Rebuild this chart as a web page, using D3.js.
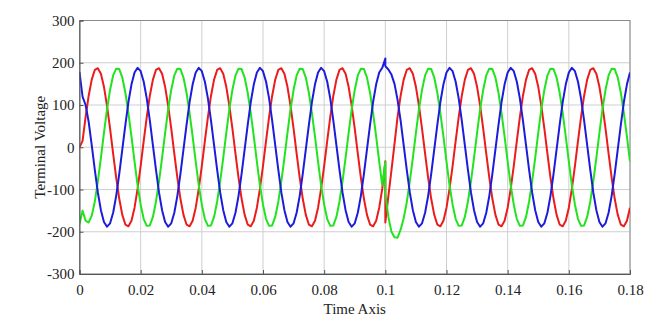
<!DOCTYPE html>
<html>
<head>
<meta charset="utf-8">
<script src="https://cdn.jsdelivr.net/npm/d3@7"></script>
<style>
  html, body { margin: 0; padding: 0; background: #fff; }
  svg text { font-family: "Liberation Serif", "Times New Roman", serif; fill: #222; }
</style>
</head>
<body>
<div id="vis"></div>
<script>
// sample spacing of the waveforms (seconds) and the instant of the disturbance
const stepSec = 0.001;
const faultTime = 0.1;

// axis ticks
const xTicks = [0, 0.02, 0.04, 0.06, 0.08, 0.1, 0.12, 0.14, 0.16, 0.18];
const yTicks = [-300, -200, -100, 0, 100, 200, 300];

// phase A (red), samples from t = 0 to t = 0.1
const redBefore = [
  0, 15, 72, 122, 160, 183, 187, 174, 143, 98, 44, -15, -72, -122, -160, -183, -187, -174, -143, -98,
  -44, 15, 72, 122, 160, 183, 187, 174, 143, 98, 44, -15, -72, -122, -160, -183, -187, -174, -143, -98,
  -44, 15, 72, 122, 160, 183, 187, 174, 143, 98, 44, -15, -72, -122, -160, -183, -187, -174, -143, -98,
  -44, 15, 72, 122, 160, 183, 187, 174, 143, 98, 44, -15, -72, -122, -160, -183, -187, -174, -143, -98,
  -44, 15, 72, 122, 160, 183, 187, 174, 143, 98, 44, -15, -72, -122, -160, -183, -187, -174, -143, -98,
  -33
];
// phase A, samples from t = 0.1 to t = 0.18
const redAfter = [
  -178, -115, -55, 8, 72, 122, 160, 183, 187, 174, 143, 98, 44, -15, -72, -122, -160, -183, -187, -174,
  -143, -98, -44, 15, 72, 122, 160, 183, 187, 174, 143, 98, 44, -15, -72, -122, -160, -183, -187, -174,
  -143, -98, -44, 15, 72, 122, 160, 183, 187, 174, 143, 98, 44, -15, -72, -122, -160, -183, -187, -174,
  -143, -98, -44, 15, 72, 122, 160, 183, 187, 174, 143, 98, 44, -15, -72, -122, -160, -183, -187, -174,
  -143
];

// phase B (green)
const greenBefore = [
  -182, -150, -174, -178, -162, -129, -81, -25, 34, 90, 136, 170, 186, 185, 165, 129, 81, 25, -34, -90,
  -136, -170, -186, -185, -165, -129, -81, -25, 34, 90, 136, 170, 186, 185, 165, 129, 81, 25, -34, -90,
  -136, -170, -186, -185, -165, -129, -81, -25, 34, 90, 136, 170, 186, 185, 165, 129, 81, 25, -34, -90,
  -136, -170, -186, -185, -165, -129, -81, -25, 34, 90, 136, 170, 186, 185, 165, 129, 81, 25, -34, -90,
  -136, -170, -186, -185, -165, -129, -81, -25, 34, 90, 136, 170, 186, 185, 165, 129, 81, 25, -34, -90,
  -35
];
const greenAfter = [
  -110, -165, -200, -213, -214, -195, -168, -131, -81, -25, 34, 90, 136, 170, 186, 185, 165, 129, 81, 25,
  -34, -90, -136, -170, -186, -185, -165, -129, -81, -25, 34, 90, 136, 170, 186, 185, 165, 129, 81, 25,
  -34, -90, -136, -170, -186, -185, -165, -129, -81, -25, 34, 90, 136, 170, 186, 185, 165, 129, 81, 25,
  -34, -90, -136, -170, -186, -185, -165, -129, -81, -25, 34, 90, 136, 170, 186, 185, 165, 129, 81, 25,
  -34
];

// phase C (blue)
const blueBefore = [
  178, 120, 100, 60, 5, -53, -107, -149, -177, -188, -180, -155, -115, -63, -5, 53, 107, 149, 177, 188,
  180, 155, 115, 63, 5, -53, -107, -149, -177, -188, -180, -155, -115, -63, -5, 53, 107, 149, 177, 188,
  180, 155, 115, 63, 5, -53, -107, -149, -177, -188, -180, -155, -115, -63, -5, 53, 107, 149, 177, 188,
  180, 155, 115, 63, 5, -53, -107, -149, -177, -188, -180, -155, -115, -63, -5, 53, 107, 149, 177, 188,
  180, 155, 115, 63, 5, -53, -107, -149, -177, -188, -180, -155, -115, -63, -5, 53, 107, 149, 177, 188,
  210
];
const blueAfter = [
  192, 184, 172, 150, 112, 63, 5, -53, -107, -149, -177, -188, -180, -155, -115, -63, -5, 53, 107, 149,
  177, 188, 180, 155, 115, 63, 5, -53, -107, -149, -177, -188, -180, -155, -115, -63, -5, 53, 107, 149,
  177, 188, 180, 155, 115, 63, 5, -53, -107, -149, -177, -188, -180, -155, -115, -63, -5, 53, 107, 149,
  177, 188, 180, 155, 115, 63, 5, -53, -107, -149, -177, -188, -180, -155, -115, -63, -5, 53, 107, 149,
  177
];

const width = 668;
const height = 328;
const margin = { top: 20.5, right: 38, bottom: 54, left: 79.5 };
const plotW = width - margin.left - margin.right;
const plotH = height - margin.top - margin.bottom;

// turn a before/after pair into [time, value] points
function toPoints(before, after) {
  const a = before.map((v, i) => [i * stepSec, v]);
  const b = after.map((v, j) => [faultTime + j * stepSec, v]);
  return a.concat(b);
}

const series = [
  { name: 'A', colour: '#ec1c1c', points: toPoints(redBefore, redAfter) },
  { name: 'B', colour: '#22e41e', points: toPoints(greenBefore, greenAfter) },
  { name: 'C', colour: '#1c1cdc', points: toPoints(blueBefore, blueAfter) }
];

const svg = d3.select('#vis')
  .append('svg')
  .attr('width', width)
  .attr('height', height);

const g = svg.append('g')
  .attr('transform', `translate(${margin.left},${margin.top})`);

const x = d3.scaleLinear().domain([0, 0.18]).range([0, plotW]);
const y = d3.scaleLinear().domain([-300, 300]).range([plotH, 0]);

// grid
g.append('g')
  .selectAll('line')
  .data(xTicks)
  .enter().append('line')
  .attr('x1', d => x(d)).attr('x2', d => x(d))
  .attr('y1', 0).attr('y2', plotH)
  .attr('stroke', '#cfcfcf').attr('stroke-width', 1);

g.append('g')
  .selectAll('line')
  .data(yTicks)
  .enter().append('line')
  .attr('x1', 0).attr('x2', plotW)
  .attr('y1', d => y(d)).attr('y2', d => y(d))
  .attr('stroke', '#cfcfcf').attr('stroke-width', 1);

// box round the plot
g.append('rect')
  .attr('width', plotW).attr('height', plotH)
  .attr('fill', 'none').attr('stroke', '#8a8a8a').attr('stroke-width', 1);

g.append('clipPath').attr('id', 'clip')
  .append('rect').attr('width', plotW).attr('height', plotH);

// waveforms
const line = d3.line()
  .x(d => x(d[0]))
  .y(d => y(d[1]));

g.append('g')
  .attr('clip-path', 'url(#clip)')
  .selectAll('path')
  .data(series)
  .enter().append('path')
  .attr('d', d => line(d.points))
  .attr('fill', 'none')
  .attr('stroke', d => d.colour)
  .attr('stroke-width', 2)
  .attr('stroke-linejoin', 'round');

// axes, ticks pointing inwards; plain hyphen for negatives like the original
const xAxis = d3.axisBottom(x)
  .tickValues(xTicks)
  .tickSize(-4)
  .tickPadding(10)
  .tickFormat(d => d === 0 ? '0' : d3.format('.2~f')(d));

const yAxis = d3.axisLeft(y)
  .tickValues(yTicks)
  .tickSize(-4)
  .tickPadding(5)
  .tickFormat(d => String(d));

const gx = g.append('g')
  .attr('transform', `translate(0,${plotH})`)
  .call(xAxis);
const gy = g.append('g').call(yAxis);

[gx, gy].forEach(ax => {
  ax.attr('font-family', '"Liberation Serif", serif').attr('font-size', 15);
  ax.select('.domain').attr('stroke', '#555');
  ax.selectAll('.tick line').attr('stroke', '#555');
  ax.selectAll('.tick text')
    .style('font-family', '"Liberation Serif", serif')
    .style('font-size', '15px')
    .attr('fill', '#222');
});

// axis titles
svg.append('text')
  .attr('x', margin.left + plotW / 2)
  .attr('y', 314)
  .attr('text-anchor', 'middle')
  .style('font-size', '15px')
  .text('Time Axis');

svg.append('text')
  .attr('transform', `translate(45,${margin.top + plotH / 2}) rotate(-90)`)
  .attr('text-anchor', 'middle')
  .style('font-size', '15px')
  .text('Terminal Voltage');
</script>
</body>
</html>
